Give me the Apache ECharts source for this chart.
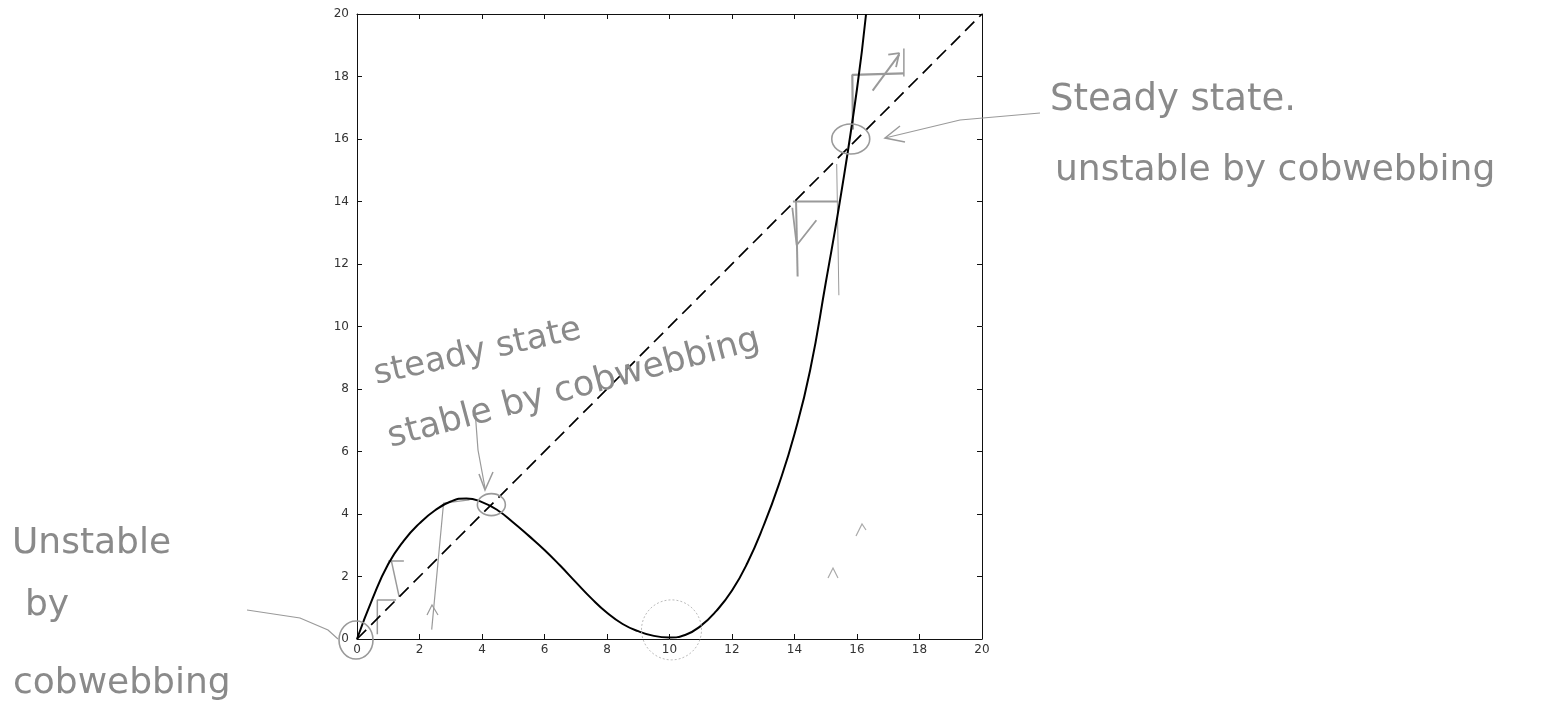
<!DOCTYPE html>
<html>
<head>
<meta charset="utf-8">
<script src="https://cdn.jsdelivr.net/npm/echarts@6/dist/echarts.min.js"></script>
<style>
html,body{margin:0;padding:0;background:#fff;}
#chart{width:1550px;height:712px;}
</style>
</head>
<body>
<div id="chart"></div>
<script>
// ---- data ----
const curveX = [0, 0.5, 1, 1.5, 2, 2.5, 3, 3.5, 4, 4.5, 5, 5.5, 6, 6.5, 7, 7.5, 8, 8.5, 9, 9.5, 10, 10.5, 11, 11.5, 12, 12.5, 13, 13.5, 14, 14.5, 15, 15.5, 16, 16.29];
const curveY = [0, 1.3, 2.4, 3.15, 3.7, 4.12, 4.4, 4.5, 4.38, 4.12, 3.73, 3.3, 2.85, 2.35, 1.82, 1.3, 0.84, 0.48, 0.25, 0.1, 0.05, 0.13, 0.42, 0.9, 1.55, 2.45, 3.6, 4.95, 6.56, 8.6, 11.4, 14.3, 17.6, 20.0];
const diagX = [0, 20];
const diagY = [0, 20];
const xTicks = [0, 2, 4, 6, 8, 10, 12, 14, 16, 18, 20];
const yTicks = [0, 2, 4, 6, 8, 10, 12, 14, 16, 18, 20];
// hand-drawn cobweb strokes (data coords)
const cobweb1 = [[0.65, 0.15], [0.65, 1.25], [1.25, 1.25]];
const cobweb2 = [[1.0, 2.5], [1.5, 2.5]];
const cobweb3 = [[1.1, 2.5], [1.35, 1.35]];
const cobweb4 = [[2.39, 0.3], [2.77, 4.35], [3.6, 4.45]];
const cobweb5 = [[13.95, 14.0], [15.4, 14.0]];
const cobweb6 = [[14.05, 14.0], [14.1, 11.6]];
const cobweb6b = [[13.93, 13.8], [14.07, 12.6], [14.7, 13.4]];
const cobweb7 = [[15.35, 15.2], [15.42, 11.0]];
const cobweb8 = [[15.87, 16.3], [15.85, 18.05], [17.5, 18.1]];
const cobweb9 = [[16.5, 17.55], [17.35, 18.7]];
const cobweb9b = [[17.0, 18.7], [17.35, 18.75], [17.25, 18.3]];
const cobweb10 = [[17.5, 18.9], [17.5, 18.0]];

const zip = (a, b) => a.map((v, i) => [v, b[i]]);

const chart = echarts.init(document.getElementById('chart'));
const GRID = {left: 357, top: 14, width: 625, height: 625};
const axisCommon = () => ({
  type: 'value', min: xTicks[0], max: xTicks[xTicks.length - 1], interval: 2,
  axisLine: {show: true, onZero: false, lineStyle: {color: '#111', width: 1}},
  axisTick: {show: true, inside: true, length: 5, lineStyle: {color: '#111'}},
  splitLine: {show: false}
});
const gray = '#9a9a9a';
function cob(data, w) {
  return {type: 'line', data: data, symbol: 'none', silent: true, z: 1,
    lineStyle: {color: gray, width: w || 1.5}, xAxisIndex: 0, yAxisIndex: 0};
}
const lbl = {color: '#333', fontSize: 12, fontFamily: 'DejaVu Sans'};
chart.setOption({
  animation: false,
  grid: GRID,
  xAxis: [
    Object.assign(axisCommon(), {position: 'bottom', axisLabel: Object.assign({margin: 5}, lbl)}),
    Object.assign(axisCommon(), {position: 'top', axisLabel: {show: false}})
  ],
  yAxis: [
    Object.assign(axisCommon(), {position: 'left', axisLabel: Object.assign({margin: 8}, lbl)}),
    Object.assign(axisCommon(), {position: 'right', axisLabel: {show: false}})
  ],
  series: [
    cob(cobweb1), cob(cobweb2), cob(cobweb3), cob(cobweb4, 1.2),
    cob(cobweb5, 2), cob(cobweb6, 2), cob(cobweb6b, 1.8), cob(cobweb7, 1), cob(cobweb8, 2.2),
    cob(cobweb9, 2), cob(cobweb9b, 1.8), cob(cobweb10, 1.5),
    {type: 'line', data: zip(diagX, diagY), symbol: 'none', z: 3,
      lineStyle: {color: '#000', width: 1.7, type: [13, 7]}},
    {type: 'line', data: zip(curveX, curveY), symbol: 'none', smooth: 0.5, z: 4,
      lineStyle: {color: '#000', width: 2}}
  ]
});

// ---- hand-written annotations ----
const P = (x, y) => chart.convertToPixel({gridIndex: 0}, [x, y]);
const hand = {fill: '#8a8a8a', fontFamily: 'DejaVu Sans', fontWeight: 'normal', textVerticalAlign: 'bottom'};
const c0 = P(0, 0), c1 = P(4.3, 4.3), c2 = P(10, 0.1), c3 = P(15.8, 16);
const strokeGray = {stroke: gray, lineWidth: 1.6, fill: null};
function txt(s, x, y, fs, rot) {
  return {type: 'text', x: x, y: y, rotation: rot || 0, z: 10,
    style: Object.assign({text: s, fontSize: fs}, hand)};
}
chart.setOption({
  graphic: [
    {type: 'ellipse', shape: {cx: c0[0] - 1, cy: c0[1] + 1, rx: 17, ry: 19}, style: strokeGray, z: 10},
    {type: 'ellipse', shape: {cx: c1[0], cy: c1[1], rx: 14, ry: 11}, style: strokeGray, z: 10},
    {type: 'ellipse', shape: {cx: c2[0] + 2, cy: c2[1] - 6, rx: 30, ry: 30}, style: {stroke: '#bbb', lineWidth: 1, lineDash: [2, 2], fill: null}, z: 10},
    {type: 'ellipse', shape: {cx: c3[0], cy: c3[1], rx: 19, ry: 15}, style: strokeGray, z: 10},
    // arrows from labels
    {type: 'polyline', shape: {points: [[1040, 113], [960, 120], [885, 138]]}, style: {stroke: gray, lineWidth: 1.2, fill: null}, z: 10},
    {type: 'polyline', shape: {points: [[900, 126], [885, 138], [905, 142]]}, style: {stroke: gray, lineWidth: 1.5, fill: null}, z: 10},
    {type: 'polyline', shape: {points: [[247, 610], [300, 618], [328, 630], [338, 639]]}, style: {stroke: gray, lineWidth: 1.2, fill: null}, z: 10},
    {type: 'polyline', shape: {points: [[475, 410], [478, 450], [485, 488]]}, style: {stroke: gray, lineWidth: 1.2, fill: null}, z: 10},
    {type: 'polyline', shape: {points: [[479, 474], [485, 490], [493, 472]]}, style: {stroke: gray, lineWidth: 1.5, fill: null}, z: 10},
    {type: 'polyline', shape: {points: [[828, 578], [833, 568], [838, 578]]}, style: {stroke: '#aaa', lineWidth: 1.2, fill: null}, z: 10},
    {type: 'polyline', shape: {points: [[856, 536], [862, 524], [866, 530]]}, style: {stroke: '#aaa', lineWidth: 1.2, fill: null}, z: 10},
    {type: 'polyline', shape: {points: [[427, 615], [432, 605], [438, 615]]}, style: {stroke: gray, lineWidth: 1.2, fill: null}, z: 10},
    // texts
    txt('steady state', 378, 392, 34, 0.22),
    txt('stable by cobwebbing', 393, 455, 35, 0.26),
    txt('Steady state.', 1050, 119, 37, 0),
    txt('unstable by cobwebbing', 1055, 189, 36, 0),
    txt('Unstable', 12, 562, 36, 0),
    txt('by', 25, 624, 36, 0),
    txt('cobwebbing', 13, 702, 36, 0)
  ]
});
</script>
</body>
</html>
